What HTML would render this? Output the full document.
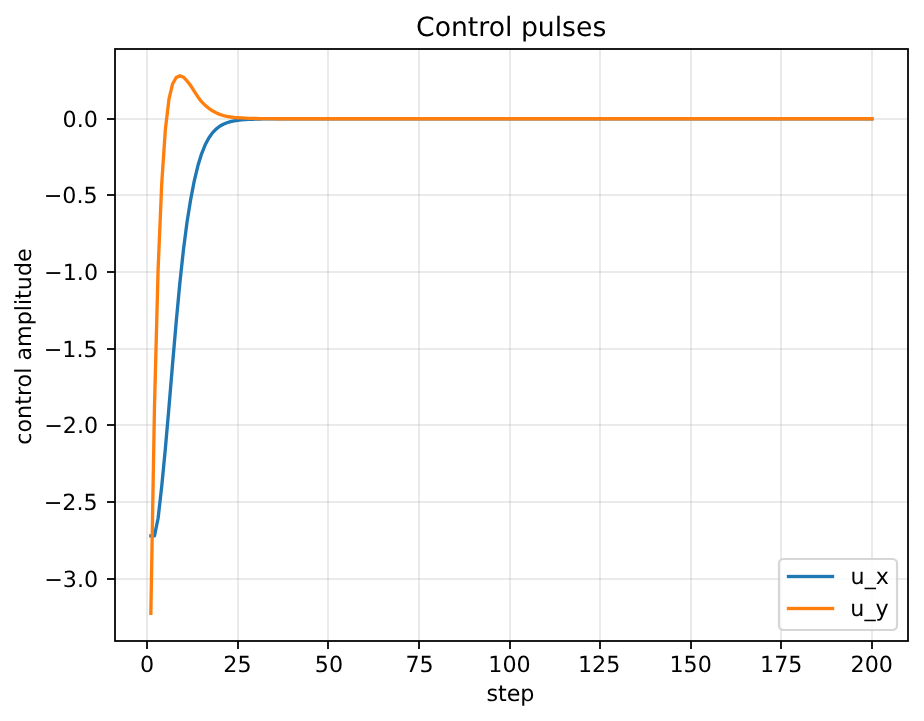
<!DOCTYPE html>
<html lang="en"><head><meta charset="utf-8"><title>Control pulses</title>
<style>html,body{margin:0;padding:0;background:#fff;overflow:hidden}svg{display:block}</style></head>
<body>
<svg width="924" height="721" viewBox="0 0 924 721">
<rect width="924" height="721" fill="#ffffff"/>
<g fill="#b0b0b0" fill-opacity="0.3">
<rect x="146.111" y="49" width="1.778" height="592"/>
<rect x="237.111" y="49" width="1.778" height="592"/>
<rect x="327.111" y="49" width="1.778" height="592"/>
<rect x="418.111" y="49" width="1.778" height="592"/>
<rect x="509.111" y="49" width="1.778" height="592"/>
<rect x="599.111" y="49" width="1.778" height="592"/>
<rect x="690.111" y="49" width="1.778" height="592"/>
<rect x="780.111" y="49" width="1.778" height="592"/>
<rect x="871.111" y="49" width="1.778" height="592"/>
<rect x="115" y="118.111" width="793" height="1.778"/>
<rect x="115" y="194.111" width="793" height="1.778"/>
<rect x="115" y="271.111" width="793" height="1.778"/>
<rect x="115" y="348.111" width="793" height="1.778"/>
<rect x="115" y="424.111" width="793" height="1.778"/>
<rect x="115" y="501.111" width="793" height="1.778"/>
<rect x="115" y="578.111" width="793" height="1.778"/>
</g>
<g fill="#000">
<rect x="146.111" y="641" width="1.778" height="8"/>
<rect x="237.111" y="641" width="1.778" height="8"/>
<rect x="327.111" y="641" width="1.778" height="8"/>
<rect x="418.111" y="641" width="1.778" height="8"/>
<rect x="509.111" y="641" width="1.778" height="8"/>
<rect x="599.111" y="641" width="1.778" height="8"/>
<rect x="690.111" y="641" width="1.778" height="8"/>
<rect x="780.111" y="641" width="1.778" height="8"/>
<rect x="871.111" y="641" width="1.778" height="8"/>
<rect x="107" y="118.111" width="8" height="1.778"/>
<rect x="107" y="194.111" width="8" height="1.778"/>
<rect x="107" y="271.111" width="8" height="1.778"/>
<rect x="107" y="348.111" width="8" height="1.778"/>
<rect x="107" y="424.111" width="8" height="1.778"/>
<rect x="107" y="501.111" width="8" height="1.778"/>
<rect x="107" y="578.111" width="8" height="1.778"/>
</g>
<clipPath id="c"><rect x="115" y="49" width="793" height="592"/></clipPath>
<g clip-path="url(#c)" fill="none" stroke-width="3.333" stroke-linejoin="round" stroke-linecap="square">
<polyline points="150.85,535.88 154.47,535.88 158.10,518.25 161.72,486.37 165.34,448.88 168.97,407.02 172.59,363.76 176.21,321.85 179.83,283.28 183.46,249.63 187.08,221.80 190.70,199.35 194.33,180.52 197.95,165.54 201.57,153.83 205.20,144.82 208.82,137.99 212.44,132.88 216.07,129.08 219.69,126.29 223.31,124.25 226.94,122.77 230.56,121.69 234.18,120.91 237.80,120.35 241.43,119.93 245.05,119.62 248.67,119.39 252.30,119.22 255.92,119.09 259.54,119.00 263.17,118.94 266.79,118.89 270.41,118.85 274.04,118.83 277.66,118.81 281.28,118.79 284.91,118.78 288.53,118.77 292.15,118.77 295.77,118.76 299.40,118.76 303.02,118.76 306.64,118.76 310.27,118.76 313.89,118.75 317.51,118.75 321.14,118.75 324.76,118.75 328.38,118.75 332.01,118.75 335.63,118.75 339.25,118.75 342.88,118.75 346.50,118.75 350.12,118.75 353.74,118.75 357.37,118.75 360.99,118.75 364.61,118.75 368.24,118.75 371.86,118.75 375.48,118.75 379.11,118.75 382.73,118.75 386.35,118.75 389.98,118.75 393.60,118.75 397.22,118.75 400.84,118.75 404.47,118.75 408.09,118.75 411.71,118.75 415.34,118.75 418.96,118.75 422.58,118.75 426.21,118.75 429.83,118.75 433.45,118.75 437.08,118.75 440.70,118.75 444.32,118.75 447.95,118.75 451.57,118.75 455.19,118.75 458.81,118.75 462.44,118.75 466.06,118.75 469.68,118.75 473.31,118.75 476.93,118.75 480.55,118.75 484.18,118.75 487.80,118.75 491.42,118.75 495.05,118.75 498.67,118.75 502.29,118.75 505.92,118.75 509.54,118.75 513.16,118.75 516.78,118.75 520.41,118.75 524.03,118.75 527.65,118.75 531.28,118.75 534.90,118.75 538.52,118.75 542.15,118.75 545.77,118.75 549.39,118.75 553.02,118.75 556.64,118.75 560.26,118.75 563.89,118.75 567.51,118.75 571.13,118.75 574.75,118.75 578.38,118.75 582.00,118.75 585.62,118.75 589.25,118.75 592.87,118.75 596.49,118.75 600.12,118.75 603.74,118.75 607.36,118.75 610.99,118.75 614.61,118.75 618.23,118.75 621.86,118.75 625.48,118.75 629.10,118.75 632.72,118.75 636.35,118.75 639.97,118.75 643.59,118.75 647.22,118.75 650.84,118.75 654.46,118.75 658.09,118.75 661.71,118.75 665.33,118.75 668.96,118.75 672.58,118.75 676.20,118.75 679.82,118.75 683.45,118.75 687.07,118.75 690.69,118.75 694.32,118.75 697.94,118.75 701.56,118.75 705.19,118.75 708.81,118.75 712.43,118.75 716.06,118.75 719.68,118.75 723.30,118.75 726.93,118.75 730.55,118.75 734.17,118.75 737.79,118.75 741.42,118.75 745.04,118.75 748.66,118.75 752.29,118.75 755.91,118.75 759.53,118.75 763.16,118.75 766.78,118.75 770.40,118.75 774.03,118.75 777.65,118.75 781.27,118.75 784.90,118.75 788.52,118.75 792.14,118.75 795.76,118.75 799.39,118.75 803.01,118.75 806.63,118.75 810.26,118.75 813.88,118.75 817.50,118.75 821.13,118.75 824.75,118.75 828.37,118.75 832.00,118.75 835.62,118.75 839.24,118.75 842.87,118.75 846.49,118.75 850.11,118.75 853.73,118.75 857.36,118.75 860.98,118.75 864.60,118.75 868.23,118.75 871.85,118.75" stroke="#1f77b4"/>
<polyline points="150.85,613.38 154.47,407.38 158.10,269.57 161.72,183.72 165.34,129.77 168.97,99.21 172.59,83.98 176.21,77.51 179.83,75.67 183.46,77.17 187.08,80.92 190.70,85.63 194.33,91.30 197.95,96.95 201.57,101.66 205.20,105.39 208.82,108.32 212.44,110.82 216.07,112.80 219.69,114.35 223.31,115.53 226.94,116.39 230.56,117.01 234.18,117.43 237.80,117.73 241.43,117.96 245.05,118.19 248.67,118.35 252.30,118.45 255.92,118.53 259.54,118.58 263.17,118.63 266.79,118.66 270.41,118.68 274.04,118.70 277.66,118.71 281.28,118.72 284.91,118.73 288.53,118.74 292.15,118.74 295.77,118.74 299.40,118.74 303.02,118.75 306.64,118.75 310.27,118.75 313.89,118.75 317.51,118.75 321.14,118.75 324.76,118.75 328.38,118.75 332.01,118.75 335.63,118.75 339.25,118.75 342.88,118.75 346.50,118.75 350.12,118.75 353.74,118.75 357.37,118.75 360.99,118.75 364.61,118.75 368.24,118.75 371.86,118.75 375.48,118.75 379.11,118.75 382.73,118.75 386.35,118.75 389.98,118.75 393.60,118.75 397.22,118.75 400.84,118.75 404.47,118.75 408.09,118.75 411.71,118.75 415.34,118.75 418.96,118.75 422.58,118.75 426.21,118.75 429.83,118.75 433.45,118.75 437.08,118.75 440.70,118.75 444.32,118.75 447.95,118.75 451.57,118.75 455.19,118.75 458.81,118.75 462.44,118.75 466.06,118.75 469.68,118.75 473.31,118.75 476.93,118.75 480.55,118.75 484.18,118.75 487.80,118.75 491.42,118.75 495.05,118.75 498.67,118.75 502.29,118.75 505.92,118.75 509.54,118.75 513.16,118.75 516.78,118.75 520.41,118.75 524.03,118.75 527.65,118.75 531.28,118.75 534.90,118.75 538.52,118.75 542.15,118.75 545.77,118.75 549.39,118.75 553.02,118.75 556.64,118.75 560.26,118.75 563.89,118.75 567.51,118.75 571.13,118.75 574.75,118.75 578.38,118.75 582.00,118.75 585.62,118.75 589.25,118.75 592.87,118.75 596.49,118.75 600.12,118.75 603.74,118.75 607.36,118.75 610.99,118.75 614.61,118.75 618.23,118.75 621.86,118.75 625.48,118.75 629.10,118.75 632.72,118.75 636.35,118.75 639.97,118.75 643.59,118.75 647.22,118.75 650.84,118.75 654.46,118.75 658.09,118.75 661.71,118.75 665.33,118.75 668.96,118.75 672.58,118.75 676.20,118.75 679.82,118.75 683.45,118.75 687.07,118.75 690.69,118.75 694.32,118.75 697.94,118.75 701.56,118.75 705.19,118.75 708.81,118.75 712.43,118.75 716.06,118.75 719.68,118.75 723.30,118.75 726.93,118.75 730.55,118.75 734.17,118.75 737.79,118.75 741.42,118.75 745.04,118.75 748.66,118.75 752.29,118.75 755.91,118.75 759.53,118.75 763.16,118.75 766.78,118.75 770.40,118.75 774.03,118.75 777.65,118.75 781.27,118.75 784.90,118.75 788.52,118.75 792.14,118.75 795.76,118.75 799.39,118.75 803.01,118.75 806.63,118.75 810.26,118.75 813.88,118.75 817.50,118.75 821.13,118.75 824.75,118.75 828.37,118.75 832.00,118.75 835.62,118.75 839.24,118.75 842.87,118.75 846.49,118.75 850.11,118.75 853.73,118.75 857.36,118.75 860.98,118.75 864.60,118.75 868.23,118.75 871.85,118.75" stroke="#ff7f0e"/>
</g>
<rect x="115" y="49" width="793" height="592" fill="none" stroke="#000" stroke-width="1.778"/>
<rect x="779.0" y="559.0" width="118.00" height="71.00" rx="4.44" ry="4.44" fill="#fff" fill-opacity="0.8" stroke="#ccc" stroke-opacity="0.8" stroke-width="2.222"/>
<rect x="786.83" y="574.833" width="47.34" height="3.333" fill="#1f77b4"/>
<rect x="786.83" y="606.833" width="47.34" height="3.333" fill="#ff7f0e"/>
<g font-family="'DejaVu Sans', 'Liberation Sans', sans-serif" font-size="22.222" fill="#000" style="text-rendering:geometricPrecision">
<text x="147.18" y="671.67" text-anchor="middle">0</text>
<text x="237.45" y="671.67" text-anchor="middle">25</text>
<text x="328.99" y="671.67" text-anchor="middle">50</text>
<text x="419.55" y="671.67" text-anchor="middle">75</text>
<text x="509.56" y="671.67" text-anchor="middle">100</text>
<text x="599.21" y="671.67" text-anchor="middle">125</text>
<text x="690.68" y="671.67" text-anchor="middle">150</text>
<text x="781.24" y="671.67" text-anchor="middle">175</text>
<text x="871.74" y="671.67" text-anchor="middle">200</text>
<text x="97.93" y="127.34" text-anchor="end">0.0</text>
<text x="97.71" y="203.34" text-anchor="end">−0.5</text>
<text x="98.06" y="280.34" text-anchor="end">−1.0</text>
<text x="97.63" y="357.34" text-anchor="end">−1.5</text>
<text x="98.11" y="433.34" text-anchor="end">−2.0</text>
<text x="97.70" y="510.34" text-anchor="end">−2.5</text>
<text x="98.16" y="587.34" text-anchor="end">−3.0</text>
<text x="510.42" y="701.06" text-anchor="middle">step</text>
<text transform="translate(30.65 346.52) rotate(-90)" text-anchor="middle">control amplitude</text>
<text x="511.17" y="36" text-anchor="middle" font-size="26.667">Control pulses</text>
<text x="850.55" y="584.39">u_x</text>
<text x="850.35" y="616.37">u_y</text>
</g></svg>
</body></html>
